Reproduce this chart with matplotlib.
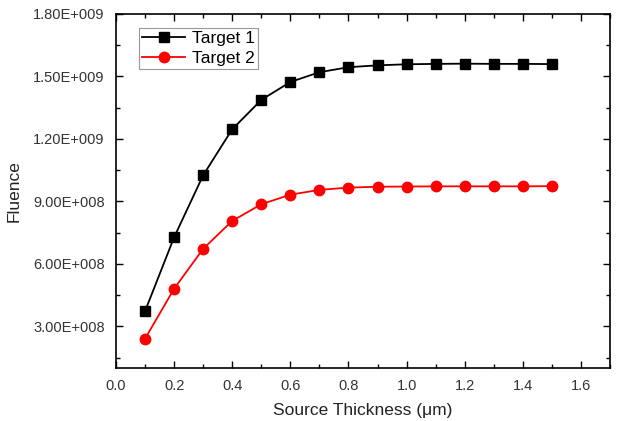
import matplotlib
matplotlib.use('Agg')
import matplotlib.pyplot as plt
from matplotlib.ticker import MultipleLocator, FuncFormatter

thickness = [0.1, 0.2, 0.3, 0.4, 0.5, 0.6, 0.7, 0.8, 0.9, 1.0, 1.1, 1.2, 1.3, 1.4, 1.5]
target1 = [3.72e8, 7.27e8, 1.025e9, 1.246e9, 1.387e9, 1.473e9, 1.520e9, 1.544e9,
           1.553e9, 1.558e9, 1.560e9, 1.561e9, 1.560e9, 1.560e9, 1.559e9]
target2 = [2.40e8, 4.80e8, 6.72e8, 8.06e8, 8.86e8, 9.32e8, 9.55e8, 9.66e8,
           9.70e8, 9.71e8, 9.72e8, 9.72e8, 9.72e8, 9.72e8, 9.73e8]

plt.rcParams['font.family'] = ['Liberation Sans', 'DejaVu Sans']

fig = plt.figure(figsize=(6.2, 4.21), dpi=100)
ax = fig.add_axes([0.187, 0.126, 0.797, 0.841])

ax.plot(thickness, target1, color='black', marker='s', markersize=7, linewidth=1.3, label='Target 1')
ax.plot(thickness, target2, color='red', marker='o', markersize=7.5, linewidth=1.3, label='Target 2')

ax.set_xlim(0, 1.7)
ax.set_ylim(1.0e8, 1.8e9)
ax.xaxis.set_major_locator(MultipleLocator(0.2))
ax.xaxis.set_minor_locator(MultipleLocator(0.1))
ax.yaxis.set_major_locator(MultipleLocator(3e8))
ax.yaxis.set_minor_locator(MultipleLocator(1.5e8))

def sci(v, pos):
    m, e = ('%.2E' % v).split('E')
    return '%sE%s%03d' % (m, e[0], abs(int(e)))

ax.yaxis.set_major_formatter(FuncFormatter(sci))
ax.tick_params(which='both', direction='in', top=True, right=True, labelsize=10.5, colors='black',
               labelcolor='#333333', pad=8)
ax.tick_params(which='major', length=5, width=1)
ax.tick_params(which='minor', length=3, width=1)
for s in ax.spines.values():
    s.set_linewidth(1.2)

ax.set_xlabel('Source Thickness (μm)', fontsize=12.5, color='#222222', labelpad=7)
ax.set_ylabel('Fluence', fontsize=12.5, color='#222222', labelpad=8)

leg = ax.legend(loc='upper left', bbox_to_anchor=(0.03, 0.985), fontsize=12.5, fancybox=False,
                edgecolor='#999999', framealpha=1, handlelength=2.5, borderpad=0.15,
                labelspacing=0.3, handletextpad=0.4)
leg.get_frame().set_linewidth(0.8)

fig.savefig('out.png', dpi=100)
